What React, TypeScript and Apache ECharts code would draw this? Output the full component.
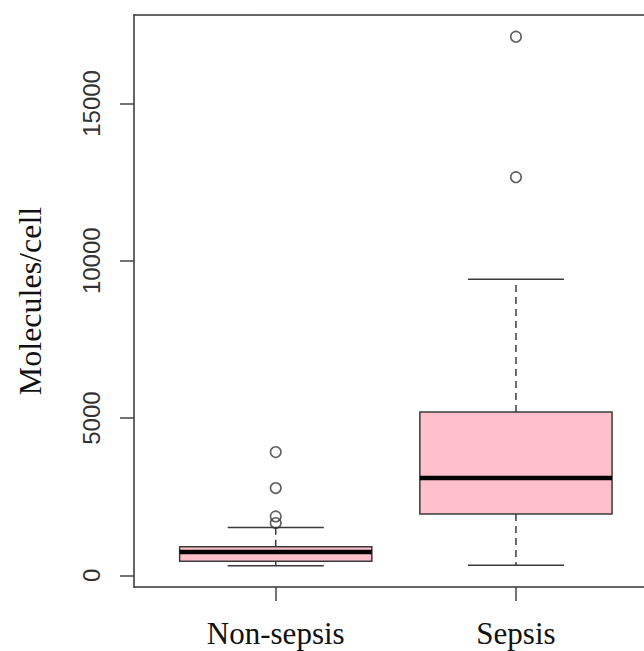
import React, { useEffect, useRef } from "react";
import * as echarts from "echarts";

const categories = ["Non-sepsis", "Sepsis"];
const categoryPositions = [1, 2];
const whiskerLow = [308, 318];
const quartile1 = [445, 1950];
const medians = [743, 3094];
const quartile3 = [912, 5190];
const whiskerHigh = [1525, 9415];
const outliersNonSepsis = [3920, 2776, 1874, 1664];
const outliersSepsis = [17122, 12655];
const yTicks = [0, 5000, 10000, 15000];

export default function App() {
  const ref = useRef<HTMLDivElement>(null);

  useEffect(() => {
    if (!ref.current) return;
    const chart = echarts.init(ref.current, null, { renderer: "svg" });

    const boxData = categoryPositions.map((x, i) => [
      x,
      whiskerLow[i],
      quartile1[i],
      medians[i],
      quartile3[i],
      whiskerHigh[i],
    ]);
    const outlierData = [
      ...outliersNonSepsis.map((v) => [categoryPositions[0], v]),
      ...outliersSepsis.map((v) => [categoryPositions[1], v]),
    ];

    const stroke = "#3a3a3a";
    const frameLine = {
      show: true,
      onZero: false,
      lineStyle: { color: "#333333", width: 1.5 },
    };

    chart.setOption({
      animation: false,
      backgroundColor: "#ffffff",
      grid: {
        show: false,
        left: 134,
        top: 15,
        right: 0,
        bottom: 64,
      },
      xAxis: [
        {
          type: "value",
          position: "bottom",
          min: 0.41,
          max: 2.533,
          axisLine: frameLine,
          splitLine: { show: false },
          axisTick: {
            show: true,
            customValues: categoryPositions,
            length: 14,
            lineStyle: { color: "#444444", width: 1.5 },
          },
          axisLabel: {
            customValues: categoryPositions,
            formatter: (v: number) => categories[categoryPositions.indexOf(v)] ?? "",
            fontFamily: "Liberation Serif",
            fontSize: 31,
            color: "#111111",
            margin: 31,
          },
        },
        {
          type: "value",
          position: "top",
          min: 0.41,
          max: 2.533,
          axisLine: frameLine,
          splitLine: { show: false },
          axisTick: { show: false },
          axisLabel: { show: false },
        },
      ],
      yAxis: {
        type: "value",
        position: "left",
        min: -370,
        max: 17810,
        axisLine: frameLine,
        splitLine: { show: false },
        axisTick: {
          show: true,
          customValues: yTicks,
          length: 14,
          lineStyle: { color: "#444444", width: 1.5 },
        },
        axisLabel: {
          customValues: yTicks,
          formatter: (v: number) => String(v),
          rotate: 90,
          fontFamily: "Liberation Sans",
          fontSize: 24,
          color: "#333333",
          margin: 31,
        },
        name: "Molecules/cell",
        nameLocation: "middle",
        nameRotate: 90,
        nameGap: 88,
        nameTextStyle: {
          fontFamily: "Liberation Serif",
          fontSize: 32,
          color: "#111111",
        },
      },
      series: [
        {
          type: "custom",
          data: boxData,
          encode: { x: 0, y: [1, 2, 3, 4, 5] },
          renderItem: (params: any, api: any) => {
            const x = api.value(0);
            const lo = api.value(1);
            const q1 = api.value(2);
            const med = api.value(3);
            const q3 = api.value(4);
            const hi = api.value(5);
            const c = api.coord([x, med]);
            const yLo = api.coord([x, lo])[1];
            const yQ1 = api.coord([x, q1])[1];
            const yMed = c[1];
            const yQ3 = api.coord([x, q3])[1];
            const yHi = api.coord([x, hi])[1];
            const boxL = api.coord([x - 0.4, med])[0];
            const boxR = api.coord([x + 0.4, med])[0];
            const capL = api.coord([x - 0.2, med])[0];
            const capR = api.coord([x + 0.2, med])[0];
            const ls = { stroke, lineWidth: 1.5 };
            return {
              type: "group",
              children: [
                {
                  type: "line",
                  shape: { x1: c[0], y1: yQ3, x2: c[0], y2: yHi },
                  style: { ...ls, lineDash: [7, 5] },
                },
                {
                  type: "line",
                  shape: { x1: c[0], y1: yQ1, x2: c[0], y2: yLo },
                  style: { ...ls, lineDash: [7, 5] },
                },
                {
                  type: "line",
                  shape: { x1: capL, y1: yHi, x2: capR, y2: yHi },
                  style: ls,
                },
                {
                  type: "line",
                  shape: { x1: capL, y1: yLo, x2: capR, y2: yLo },
                  style: ls,
                },
                {
                  type: "rect",
                  shape: { x: boxL, y: yQ3, width: boxR - boxL, height: yQ1 - yQ3 },
                  style: { fill: "#FFC0CB", stroke, lineWidth: 1.5 },
                },
                {
                  type: "line",
                  shape: { x1: boxL, y1: yMed, x2: boxR, y2: yMed },
                  style: { stroke: "#000000", lineWidth: 4.5 },
                },
              ],
            };
          },
        },
        {
          type: "scatter",
          data: outlierData,
          symbol: "circle",
          symbolSize: 10.5,
          itemStyle: {
            color: "rgba(255,255,255,0)",
            borderColor: stroke,
            borderWidth: 1.6,
          },
        },
      ],
    });

    return () => chart.dispose();
  }, []);

  return (
    <div
      ref={ref}
      style={{ position: "absolute", left: 0, top: 0, width: 644, height: 651 }}
    />
  );
}
